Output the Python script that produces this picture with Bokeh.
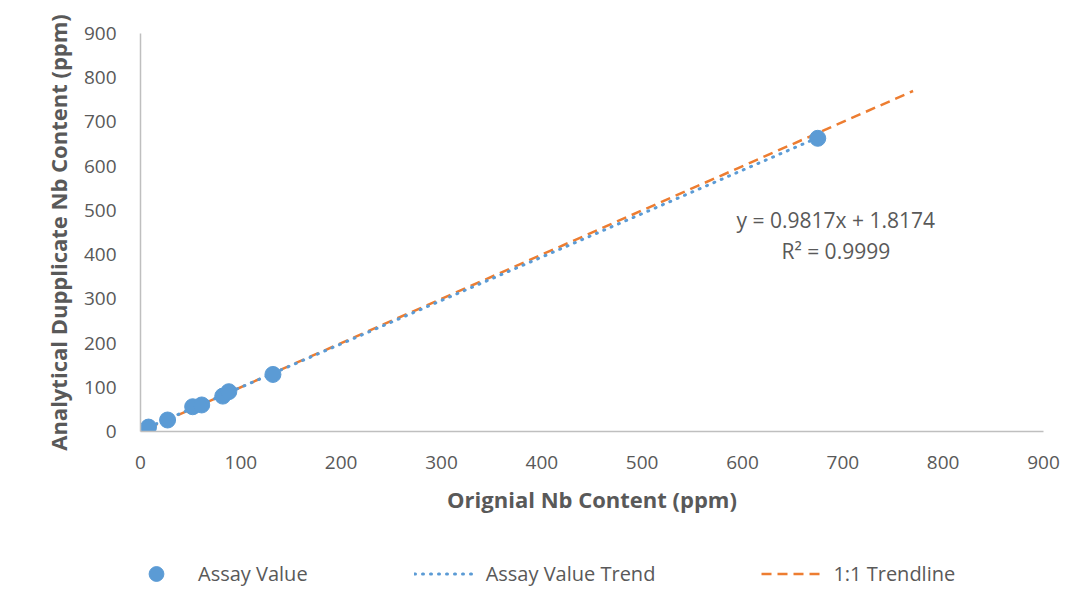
from bokeh.plotting import figure
from bokeh.layouts import column
from bokeh.models import FixedTicker, Label, Legend, LegendItem
from bokeh.embed import file_html
from bokeh.resources import INLINE

# ---- data ----
orig_nb = [8, 27, 52, 61, 82, 88, 132, 675]
dup_nb = [10, 26, 56, 60, 80, 90, 129, 663]
trend_x = [8, 675]
trend_y = [9.7, 664.5]
one_x = [8, 770]
one_y = [8, 770]
ticks = [0, 100, 200, 300, 400, 500, 600, 700, 800, 900]
eq_text = ["y = 0.9817x + 1.8174", "R² = 0.9999"]
eq_x = [693, 693]
eq_y = [479, 409]
series_names = ["Assay Value", "Assay Value Trend", "1:1 Trendline"]

BLUE = "#5B9BD5"
ORANGE = "#ED7D31"
TXT = "#595959"
FONT = "Open Sans"

p = figure(frame_width=903, frame_height=398, x_range=(0, 900), y_range=(0, 900),
           output_backend="svg", toolbar_location=None,
           min_border_left=140, min_border_right=30, min_border_top=33, min_border_bottom=100)
p.outline_line_color = None
p.grid.grid_line_color = None
p.background_fill_color = "white"
p.border_fill_color = "white"

for ax in (p.xaxis[0], p.yaxis[0]):
    ax.ticker = FixedTicker(ticks=ticks)
    ax.major_tick_line_color = None
    ax.minor_tick_line_color = None
    ax.axis_line_color = "#bfbfbf"
    ax.axis_line_width = 1.5
    ax.major_label_text_font = FONT
    ax.major_label_text_font_size = "19px"
    ax.major_label_text_color = TXT
    ax.axis_label_text_font = FONT
    ax.axis_label_text_font_size = "22px"
    ax.axis_label_text_font_style = "bold"
    ax.axis_label_text_color = TXT

p.xaxis.axis_label = "Orignial Nb Content (ppm)"
p.yaxis.axis_label = "Analytical Dupplicate Nb Content (ppm)"
p.xaxis.major_label_standoff = 18
p.yaxis.major_label_standoff = 18
p.xaxis.axis_label_standoff = 12
p.yaxis.axis_label_standoff = 8

p.line(one_x, one_y, line_color=ORANGE, line_width=2.5, line_dash="10 6")
p.line(trend_x, trend_y, line_color=BLUE, line_width=3, line_dash="1 7", line_cap="round")
p.scatter(orig_nb, dup_nb, size=16, fill_color=BLUE, line_color=BLUE)

for t, xx, yy in zip(eq_text, eq_x, eq_y):
    p.add_layout(Label(x=xx, y=yy, text=t, text_align="center", text_baseline="middle",
                       text_font=FONT, text_font_size="21px", text_color=TXT))

# ---- legend strip (separate small figure below the chart) ----
lf = figure(width=1073, height=77, x_range=(0, 1), y_range=(0, 1),
            output_backend="svg", toolbar_location=None,
            min_border_left=0, min_border_right=0, min_border_top=0, min_border_bottom=0,
            x_axis_type=None, y_axis_type=None)
lf.outline_line_color = None
lf.grid.grid_line_color = None
lf.background_fill_color = "white"
lf.border_fill_color = "white"

d_pts = lf.scatter([-5], [-5], size=16, fill_color=BLUE, line_color=BLUE)
d_trend = lf.line([-5, -4], [-5, -4], line_color=BLUE, line_width=3, line_dash="1 7", line_cap="round")
d_one = lf.line([-5, -4], [-5, -4], line_color=ORANGE, line_width=2.5, line_dash="10 6")

legend = Legend(items=[LegendItem(label=series_names[0], renderers=[d_pts]),
                       LegendItem(label=series_names[1], renderers=[d_trend]),
                       LegendItem(label=series_names[2], renderers=[d_one])],
                location=(-14, 16), orientation="horizontal",
                glyph_width=60, glyph_height=37, label_standoff=12, spacing=106,
                padding=0, margin=0, border_line_color=None, background_fill_alpha=0,
                label_text_font=FONT, label_text_font_size="20px", label_text_color=TXT)
lf.add_layout(legend)

layout = column(p, lf, spacing=0)
open("out.html", "w").write(file_html(layout, INLINE))
